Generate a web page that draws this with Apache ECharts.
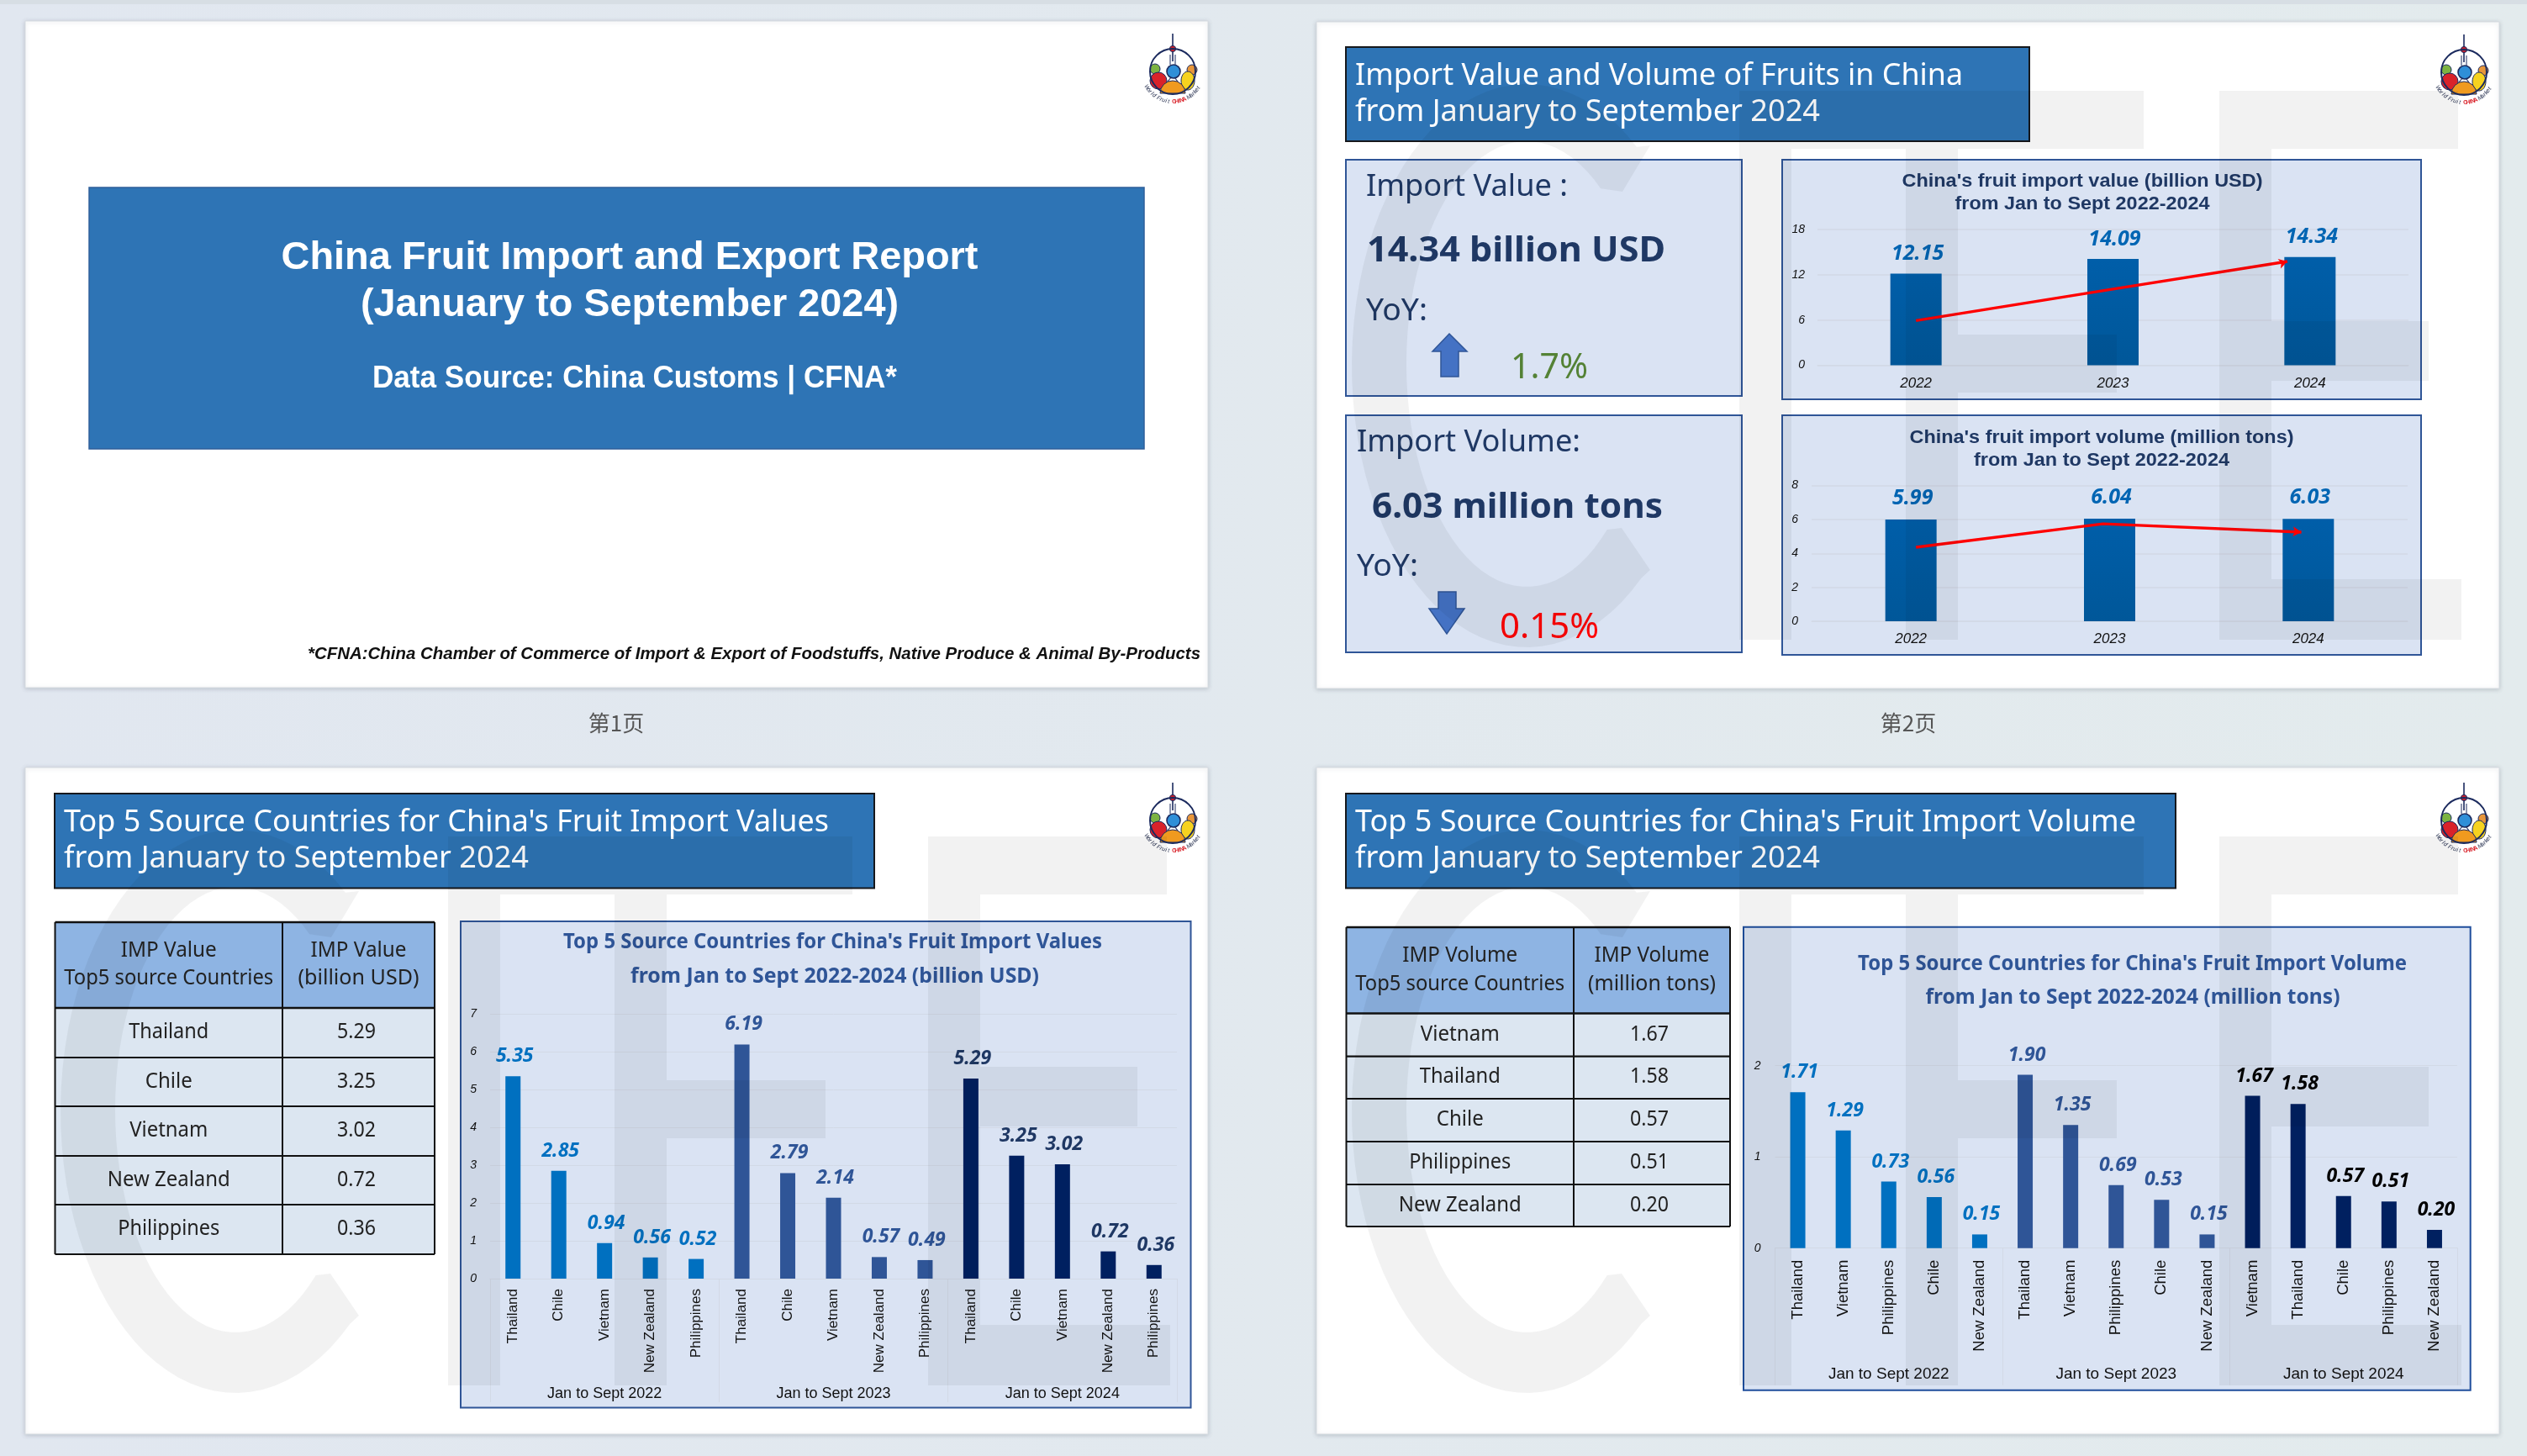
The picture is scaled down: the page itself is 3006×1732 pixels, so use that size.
<!DOCTYPE html>
<html><head><meta charset="utf-8">
<style>html,body{margin:0;padding:0;background:#e2e8ef}#c{width:3006px;height:1732px}</style>
<script src="https://cdn.jsdelivr.net/npm/echarts@6/dist/echarts.min.js"></script>
</head><body><div id="c"></div>
<script>
// ---------- data ----------
const years = ['2022','2023','2024'];
const importValue = [12.15,14.09,14.34];
const importVolume = [5.99,6.04,6.03];
const valueTrend = [[0.5,5.92],[1.5,10.1],[2.385,13.77]];
const volumeTrend = [[0.525,4.36],[1.467,5.74],[2.465,5.25]];
const periods = ['Jan to Sept 2022','Jan to Sept 2023','Jan to Sept 2024'];
const valCountries = ['Thailand','Chile','Vietnam','New Zealand','Philippines'];
const val2022 = [5.35,2.85,0.94,0.56,0.52];
const val2023 = [6.19,2.79,2.14,0.57,0.49];
const val2024 = [5.29,3.25,3.02,0.72,0.36];
const volCountries2022 = ['Thailand','Vietnam','Philippines','Chile','New Zealand'];
const volCountries2023 = ['Thailand','Vietnam','Philippines','Chile','New Zealand'];
const volCountries2024 = ['Vietnam','Thailand','Chile','Philippines','New Zealand'];
const vol2022 = [1.71,1.29,0.73,0.56,0.15];
const vol2023 = [1.90,1.35,0.69,0.53,0.15];
const vol2024 = [1.67,1.58,0.57,0.51,0.20];
const valueTableNames = ['Thailand','Chile','Vietnam','New Zealand','Philippines'];
const valueTableValues = ['5.29','3.25','3.02','0.72','0.36'];
const volumeTableNames = ['Vietnam','Thailand','Chile','Philippines','New Zealand'];
const volumeTableValues = ['1.67','1.58','0.57','0.51','0.20'];
const logoLetters = 'World Fruit CHINA Market';

// ---------- helpers ----------
const NOTO = '"Noto Sans","Open Sans",sans-serif', ARIAL = '"Liberation Sans",Arial,sans-serif';
const BLUE = '#2e74b5', PANEL = '#dae3f3', PBORDER = '#2f5597', NAVY = '#1f3864';
const els = [];
const ctx = document.createElement('canvas').getContext('2d');
function t(text, x, y, o) {
  o = o || {};
  const size = o.size || 20, family = o.family || NOTO, weight = o.weight || 'normal', fs = o.italic ? 'italic' : 'normal';
  let scaleX = 1;
  if (o.width) { ctx.font = `${fs} ${weight} ${size}px ${family}`; scaleX = o.width / ctx.measureText(text).width; }
  els.push({ type:'text', x, y, scaleX, z:o.z || 10, silent:true, rotation:o.rotation || 0,
    style:{ text, fill:o.fill || '#222', fontSize:size, fontFamily:family, fontWeight:weight, fontStyle:fs,
      align:o.align || 'left', verticalAlign:'middle' } });
}
function rect(x, y, w, h, fill, stroke, lw, z, extra) {
  els.push({ type:'rect', z:z === undefined ? -5 : z, silent:true, shape:{x,y,width:w,height:h},
    style:Object.assign({ fill:fill || 'transparent', stroke:stroke || null, lineWidth:lw || 0 }, extra || {}) });
}
function poly(points, fill, stroke) {
  els.push({ type:'polygon', z:5, silent:true, shape:{points}, style:{fill, stroke, lineWidth:1.5} });
}
function slide(x, y) {
  els.push({ type:'rect', z:-9, silent:true, shape:{x,y,width:1407,height:793},
    style:{ fill:'#fff', stroke:'#d6dbe1', lineWidth:1, shadowBlur:5, shadowColor:'rgba(90,100,110,.28)', shadowOffsetY:1 } });
}
function watermark(dx, dy) {
  const fill = 'rgba(0,0,0,0.05)';
  const add = pts => els.push({ type:'polygon', z:20, silent:true, x:dx, y:dy, shape:{points:pts}, style:{fill} });
  const c = [[427,1060]];
  for (let a = 51; a <= 313; a += 4) { const r = a*Math.PI/180; c.push([280+208*Math.cos(r), 1322-335*Math.sin(r)]); }
  c.push([427,1565],[393,1515]);
  for (let a = 312; a >= 51; a -= 4) { const r = a*Math.PI/180; c.push([280+143*Math.cos(r), 1320-265*Math.sin(r)]); }
  c.push([394,1115]);
  add(c);
  add([[533,995],[1014,995],[1014,1064],[793,1064],[793,1285],[982,1285],[982,1354],[793,1354],[793,1648],[731,1648],[731,1064],[595,1064],[595,1648],[533,1648]]);
  add([[1104,995],[1388,995],[1388,1064],[1166,1064],[1166,1269],[1353,1269],[1353,1340],[1166,1340],[1166,1576],[1392,1576],[1392,1648],[1104,1648]]);
}
function logo(cx, cy) {
  const z = 6, n = '#1b2a5e';
  const c = (x,y,r,fill,stroke,lw) => els.push({type:'circle',z,silent:true,shape:{cx:cx+x,cy:cy+y,r},style:{fill:fill||'transparent',stroke:stroke||null,lineWidth:lw||0}});
  const line = (x1,y1,x2,y2,w) => els.push({type:'line',z,silent:true,shape:{x1:cx+x1,y1:cy+y1,x2:cx+x2,y2:cy+y2},style:{stroke:n,lineWidth:w}});
  c(0,0,27,'#fff');
  c(-21,-3,6,'#7cb342',n,1);
  c(-17,11,10,'#d9222a',n,1);
  c(23,-2,6,'#e8963a',n,1);
  els.push({type:'ellipse',z,silent:true,shape:{cx:cx+18,cy:cy+11,rx:8,ry:11},style:{fill:'#f6d21f',stroke:n,lineWidth:1}});
  els.push({type:'sector',z,silent:true,shape:{cx,cy:cy+26,r:15,r0:0,startAngle:Math.PI,endAngle:2*Math.PI},style:{fill:'#f09a1f',stroke:n,lineWidth:1}});
  line(0,-45,0,-12,1.6); line(-3,-20,-3,-8,1); line(3,-20,3,-8,1);
  c(0,-27,3.6,'#c8202c',n,1);
  c(1,0,8,'#2f8fd8',n,1.6);
  line(-6,12,-2,7,1.2); line(6,12,2,7,1.2);
  c(0,0,27,null,n,2);
  const chars = logoLetters.split('');
  chars.forEach((ch,i) => {
    if (ch === ' ') return;
    const a = (148 - i * (116 / (chars.length - 1))) * Math.PI / 180, R = 36;
    const red = i >= 12 && i <= 16;
    els.push({type:'text',z,silent:true,x:cx+R*Math.cos(a),y:cy+R*Math.sin(a),rotation:-(a-Math.PI/2),
      style:{text:ch,fill:red?'#d9222a':'#2a3352',fontSize:7,fontStyle:red?'normal':'italic',fontWeight:red?'bold':'normal',
        fontFamily:ARIAL,align:'center',verticalAlign:'middle'}});
  });
}
function banner(x, y, w, h, l1, l2, wid1, wid2) {
  rect(x, y, w, h, BLUE, '#16181c', 2);
  t(l1, x + 11, y + 34, {size:37, fill:'#fff', width:wid1});
  t(l2, x + 11, y + 77, {size:37, fill:'#fff', width:wid2});
}
function table(xs, ys, head, names, vals, valX) {
  const [x0,x1,x2] = xs;
  rect(x0, ys[0], x2-x0, ys[1]-ys[0], '#8eb4e3');
  rect(x0, ys[1], x2-x0, ys[ys.length-1]-ys[1], '#dce6f1');
  const ln = (a,b,c,d,w) => els.push({type:'line',z:3,silent:true,shape:{x1:a,y1:b,x2:c,y2:d},style:{stroke:'#111',lineWidth:w}});
  ys.forEach((y,i) => ln(x0,y,x2,y,i===1||i===0?2.5:2.2));
  [x0,x1,x2].forEach(x => ln(x,ys[0],x,ys[ys.length-1],2));
  const c0 = (x0+x1)/2, c1 = (x1+x2)/2;
  const h1 = ys[0] + (ys[1]-ys[0])*0.33, h2 = ys[0] + (ys[1]-ys[0])*0.66;
  t(head[0], c0, h1, {size:25, align:'center', width:head[4]});
  t(head[1], c0, h2, {size:25, align:'center', width:249});
  t(head[2], c1, h1, {size:25, align:'center', width:head[4]});
  t(head[3], c1, h2, {size:25, align:'center', width:head[5]});
  names.forEach((n,i) => {
    const yc = (ys[i+1]+ys[i+2])/2 - 0.5;
    t(n, c0, yc, {size:25, align:'center', width:head[6][i]});
    t(vals[i], valX, yc, {size:25, align:'center', width:46});
  });
}

// ---------- page ----------
els.push({type:'rect',z:-10,silent:true,shape:{x:0,y:0,width:3006,height:1732},
  style:{fill:{type:'linear',x:0,y:0,x2:1,y2:0,colorStops:[{offset:0,color:'#e1e7f0'},{offset:1,color:'#e3ebed'}]}}});
rect(0,0,3006,5,'#d7dee4',null,0,-9.5);
slide(30,25); slide(1566,26); slide(30,913); slide(1566,913);
t('第1页', 733, 860, {size:26, family:'"Noto Sans CJK SC"', fill:'#555', align:'center'});
t('第2页', 2270, 860, {size:26, family:'"Noto Sans CJK SC"', fill:'#555', align:'center'});

// slide 1
rect(106,223,1255,311,BLUE,'#2f5f9a',1.5);
t('China Fruit Import and Export Report', 749, 307, {size:46, family:ARIAL, weight:'bold', fill:'#fff', align:'center', width:829});
t('(January to September 2024)', 749, 363, {size:46, family:ARIAL, weight:'bold', fill:'#fff', align:'center', width:640});
t('Data Source: China Customs | CFNA*', 755, 451, {size:36, family:ARIAL, weight:'bold', fill:'#fff', align:'center', width:624});
t('*CFNA:China Chamber of Commerce of Import & Export of Foodstuffs, Native Produce & Animal By-Products', 366, 778,
  {size:20.5, family:ARIAL, weight:'bold', italic:true, fill:'#111', width:1062});
logo(1395,85); logo(2931,86); logo(1395,976); logo(2931,976);

// slide 2
banner(1601,56,813,112,'Import Value and Volume of Fruits in China','from January to September 2024',723,553);
rect(1601,190,471,281,PANEL,PBORDER,2); rect(1601,494,471,282,PANEL,PBORDER,2);
rect(2120,190,760,285,PANEL,PBORDER,2); rect(2120,494,760,285,PANEL,PBORDER,2);
t('Import Value :',1625,222.5,{size:36,fill:NAVY,width:240});
t('14.34 billion USD',1626,299.5,{size:42,weight:'bold',fill:NAVY,width:355});
t('YoY:',1625,370.5,{size:36,fill:NAVY,width:73});
poly([[1724,397],[1745,418],[1735,418],[1735,448],[1714,448],[1714,418],[1704,418]],'#4472c4','#2f5597');
t('1.7%',1797,438,{size:42,fill:'#548235',width:92});
t('Import Volume:',1614,526.5,{size:36,fill:NAVY,width:266});
t('6.03 million tons',1632,604,{size:42,weight:'bold',fill:NAVY,width:346});
t('YoY:',1614,674.5,{size:36,fill:NAVY,width:73});
poly([[1711,704],[1732,704],[1732,724],[1742,724],[1721,754],[1700,724],[1711,724]],'#4472c4','#2f5597');
t('0.15%',1784,747,{size:42,fill:'#f00',width:118});
const CT = {size:22,family:ARIAL,weight:'bold',fill:NAVY,align:'center'};
t("China's fruit import value (billion USD)",2477,216,Object.assign({width:429},CT));
t('from Jan to Sept 2022-2024',2477,243,Object.assign({width:303},CT));
t("China's fruit import volume (million tons)",2500,521,Object.assign({width:457},CT));
t('from Jan to Sept 2022-2024',2500,548,Object.assign({width:304},CT));

// slide 3
banner(65,944,975,112.5,"Top 5 Source Countries for China's Fruit Import Values",'from January to September 2024',910,553);
rect(548,1096,868.5,578.5,PANEL,PBORDER,2);
table([65.5,336,517],[1097,1199,1258,1316,1375,1433,1492],['IMP Value','Top5 source Countries','IMP Value','(billion USD)',114,144,[95,56,93,146,121]],valueTableNames,valueTableValues,424);
const ST = {size:25,weight:'bold',fill:PBORDER,align:'center'};
t("Top 5 Source Countries for China's Fruit Import Values",990.5,1121,Object.assign({width:641},ST));
t('from Jan to Sept 2022-2024 (billion USD)',993,1161.5,Object.assign({width:486},ST));

// slide 4
banner(1601,944,987,112.5,"Top 5 Source Countries for China's Fruit Import Volume",'from January to September 2024',929,553);
rect(2074,1102.7,864.7,551,PANEL,'#1f4e9c',2);
table([1601.5,1872,2058],[1103,1205.6,1256.6,1307,1358,1409,1459],['IMP Volume','Top5 source Countries','IMP Volume','(million tons)',137,152,[94,96,56,121,146]],volumeTableNames,volumeTableValues,1962);
t("Top 5 Source Countries for China's Fruit Import Volume",2536.6,1147,Object.assign({width:653},ST));
t('from Jan to Sept 2022-2024 (million tons)',2537,1187,Object.assign({width:493},ST));

watermark(1536,-887); watermark(0,0); watermark(1536,0);

// ---------- charts ----------
const grids = [], xAxes = [], yAxes = [], series = [];
const yLabel = (m) => ({ color:'#111', fontStyle:'italic', fontFamily:ARIAL, fontSize:14, margin:m });
function yearChart(g, vals, trend, max, interval, labelGap, rot, yM) {
  const gi = grids.length; grids.push(g);
  xAxes.push({ type:'category', gridIndex:gi, data:years, axisTick:{show:false}, axisLine:{lineStyle:{color:'#d2d9e6'}},
    axisLabel:{color:'#111',fontStyle:'italic',fontFamily:ARIAL,fontSize:17,margin:13} });
  const xi2 = xAxes.length;
  xAxes.push({ type:'value', gridIndex:gi, min:0, max:3, show:false });
  const yi = yAxes.length;
  yAxes.push({ type:'value', gridIndex:gi, min:0, max, interval, axisLine:{show:false}, axisTick:{show:false},
    splitLine:{lineStyle:{color:'#d2d9e6',width:1.5}}, axisLabel:yLabel(yM) });
  series.push({ type:'bar', xAxisIndex:xi2-1, yAxisIndex:yi, data:vals, barWidth:g.barW || 61, animation:false, silent:true,
    itemStyle:{color:{type:'linear',x:0,y:0,x2:0,y2:1,colorStops:[{offset:0,color:'#005ea9'},{offset:1,color:'#005799'}]}},
    label:{show:true,position:'top',distance:labelGap,offset:[2,0],color:'#0065b3',fontFamily:NOTO,fontWeight:'bold',fontStyle:'italic',fontSize:25,
      formatter:p=>p.value.toFixed(2)} });
  const pts = trend.map((p,i) => i === trend.length-1 ? {value:p,symbol:'arrow',symbolSize:[9,10],symbolRotate:rot} : {value:p,symbol:'none'});
  series.push({ type:'line', xAxisIndex:xi2, yAxisIndex:yi, data:pts, z:4, animation:false, silent:true, symbol:'none', showSymbol:true,
    lineStyle:{color:'#f00',width:3.5}, itemStyle:{color:'#f00'} });
}
function topChart(g, names, vals, cols, labelCols, max, m1, m2, tick, catSize, perSize, yM) {
  const gi = grids.length; grids.push(g);
  const xi = xAxes.length;
  xAxes.push({ type:'category', gridIndex:gi, position:'bottom', data:names, axisTick:{show:false}, axisLine:{onZero:false,lineStyle:{color:'#d2d9e6'}},
    axisLabel:{interval:0,rotate:90,color:'#111',fontFamily:ARIAL,fontSize:catSize,margin:m1} });
  xAxes.push({ type:'category', gridIndex:gi, position:'bottom', data:periods, axisLine:{onZero:false,lineStyle:{color:'#d2d9e6'}},
    axisTick:{show:true,length:tick,alignWithLabel:false,lineStyle:{color:'#d2d9e6'}},
    axisLabel:{interval:0,color:'#111',fontFamily:ARIAL,fontSize:perSize,margin:m2} });
  const yi = yAxes.length;
  yAxes.push({ type:'value', gridIndex:gi, min:0, max, interval:1, axisLine:{show:false}, axisTick:{show:false},
    splitLine:{lineStyle:{color:'#d2d9e6',width:1}}, axisLabel:yLabel(yM) });
  vals.forEach((arr,s) => {
    const data = [];
    for (let i=0;i<15;i++) data.push(Math.floor(i/5)===s ? arr[i%5] : null);
    series.push({ type:'bar', xAxisIndex:xi, yAxisIndex:yi, data, barWidth:18, barGap:'-100%', animation:false, silent:true,
      itemStyle:{color:cols[s]},
      label:{show:true,position:'top',distance:12,offset:[2,0],color:labelCols[s],fontFamily:NOTO,fontWeight:'bold',fontStyle:'italic',fontSize:23,
        formatter:p=>p.value==null?'':p.value.toFixed(2)} });
  });
}
yearChart({left:2162,top:273,width:703,height:161.5},importValue,valueTrend,18,6,11,-74,15);
yearChart({left:2155,top:577.5,width:709,height:161.5},importVolume,volumeTrend,8,2,13,-94,16);
topChart({left:583,top:1206,width:817,height:315},[].concat(valCountries,valCountries,valCountries),[val2022,val2023,val2024],
  ['#0070c0','#2f5597','#002060'],['#0070c0','#2f5597','#1f3864'],7,12,128,147,17,18,16);
topChart({left:2111.5,top:1267.7,width:811.5,height:217},[].concat(volCountries2022,volCountries2023,volCountries2024),[vol2022,vol2023,vol2024],
  ['#0070c0','#2f5597','#002060'],['#0070c0','#2f5597','#000'],2,14,141,163,18.5,19,17);

const chart = echarts.init(document.getElementById('c'), null, {renderer:'canvas', width:3006, height:1732});
chart.setOption({ animation:false, tooltip:{show:false}, grid:grids, xAxis:xAxes, yAxis:yAxes, series, graphic:{elements:els} });
</script></body></html>
